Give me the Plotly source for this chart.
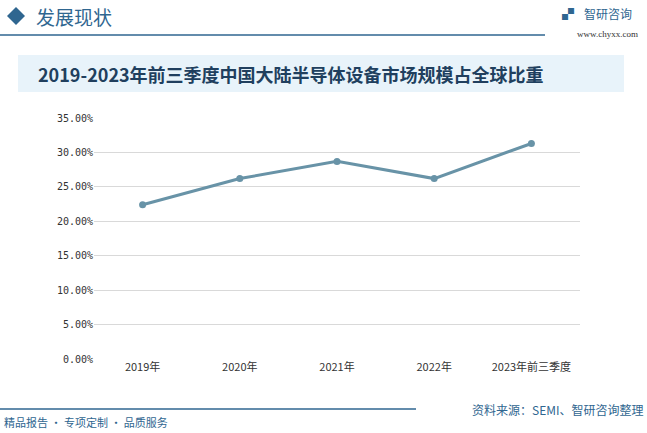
import plotly.graph_objects as go

categories = ["2019年", "2020年", "2021年", "2022年", "2023年前三季度"]
values = [22.4, 26.2, 28.7, 26.2, 31.3]
tick_vals = [0, 5, 10, 15, 20, 25, 30, 35]
tick_text = ["0.00%", "5.00%", "10.00%", "15.00%", "20.00%", "25.00%", "30.00%", "35.00%"]

W, H = 647, 433
F = "Noto Sans CJK SC"
fig = go.Figure(go.Scatter(x=categories, y=values, mode="lines+markers",
                           line=dict(color="#6893A7", width=3),
                           marker=dict(size=7, color="#6893A7")))

def px(x): return x / W
def py(y): return 1 - y / H

fig.update_layout(
    width=W, height=H, margin=dict(l=0, r=0, t=0, b=0),
    paper_bgcolor="white", plot_bgcolor="white", showlegend=False,
    xaxis=dict(domain=[px(94), px(580)], range=[-0.5, 4.5], showgrid=False, showline=False, ticks="",
               automargin=False, tickfont=dict(family=F, size=11, color="#333")),
    yaxis=dict(domain=[py(359), py(118)], range=[0, 35], tickvals=tick_vals, ticktext=tick_text,
               automargin=False, showgrid=True, gridcolor="#D9D9D9", zeroline=False,
               tickfont=dict(family="DejaVu Sans Mono", size=10, color="#333")),
    shapes=[
        dict(type="rect", xref="paper", yref="paper", x0=px(18), x1=px(624), y0=py(92), y1=py(55),
             fillcolor="#E8F3FA", line=dict(width=0), layer="below"),
        dict(type="line", xref="paper", yref="paper", x0=0, x1=px(545), y0=py(35), y1=py(35),
             line=dict(color="#2F6690", width=1.5)),
        dict(type="line", xref="paper", yref="paper", x0=0, x1=px(416), y0=py(409), y1=py(409),
             line=dict(color="#2F6690", width=1.5)),
        dict(type="path", xref="paper", yref="paper",
             path=f"M {px(7)} {py(16)} L {px(16)} {py(7)} L {px(25)} {py(16)} L {px(16)} {py(25)} Z",
             fillcolor="#2F6690", line=dict(width=0)),
    ],
    annotations=[
        dict(text="发展现状", x=px(34), y=py(16), xref="paper", yref="paper", xanchor="left", yanchor="middle",
             showarrow=False, font=dict(family=F, size=19, color="#2F6690")),
        dict(text="智研咨询", x=px(582), y=py(13), xref="paper", yref="paper", xanchor="left", yanchor="middle",
             showarrow=False, font=dict(family=F, size=12, color="#2F6690")),
        dict(text="▞", x=px(568), y=py(13), xref="paper", yref="paper", xanchor="center", yanchor="middle",
             showarrow=False, font=dict(family=F, size=12, color="#2F6690")),
        dict(text="www.chyxx.com", x=px(640), y=py(34), xref="paper", yref="paper", xanchor="right", yanchor="middle",
             showarrow=False, font=dict(family="Liberation Serif", size=9, color="#333")),
        dict(text="<b>2019-2023年前三季度中国大陆半导体设备市场规模占全球比重</b>", x=px(36), y=py(74),
             xref="paper", yref="paper", xanchor="left", yanchor="middle",
             showarrow=False, font=dict(family=F, size=18, color="#203F5E")),
        dict(text="资料来源：SEMI、智研咨询整理", x=px(645), y=py(409), xref="paper", yref="paper",
             xanchor="right", yanchor="middle", showarrow=False, font=dict(family=F, size=12, color="#2F6690")),
        dict(text="精品报告 · 专项定制 · 品质服务", x=px(2), y=py(422), xref="paper", yref="paper",
             xanchor="left", yanchor="middle", showarrow=False, font=dict(family=F, size=11, color="#2F6690")),
    ],
)
fig.write_html("out.html", config={"displayModeBar": False},
               post_script="document.body.style.margin='0';document.body.style.overflow='hidden';")
